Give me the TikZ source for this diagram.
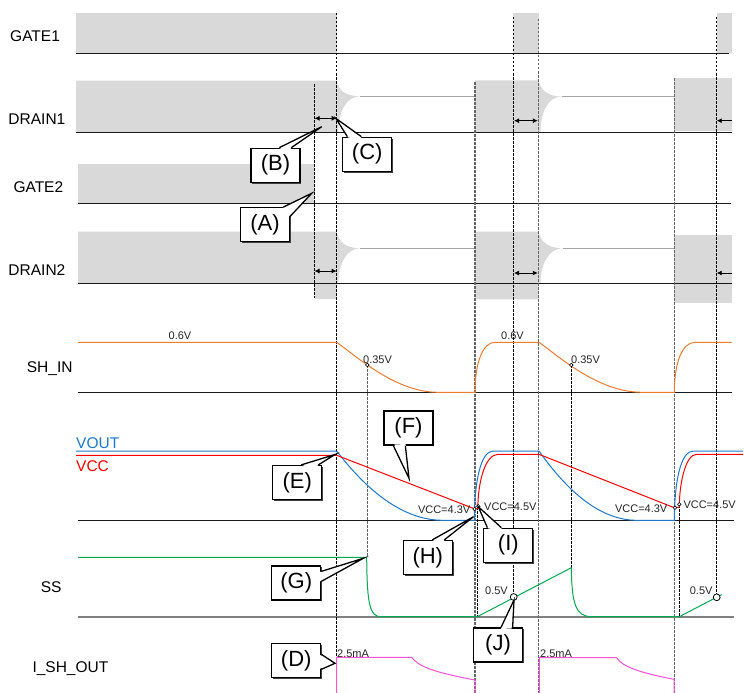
\documentclass[tikz,border=0pt]{standalone}
\usepackage{fontspec}
\setmainfont{Liberation Sans}
\usetikzlibrary{arrows.meta,calc,shadows}
\definecolor{shadegray}{RGB}{217,217,217}
\definecolor{levgray}{RGB}{165,165,165}
\definecolor{worange}{RGB}{237,125,49}
\definecolor{vblue}{RGB}{30,120,200}
\definecolor{vred}{RGB}{255,0,0}
\definecolor{sgreen}{RGB}{0,170,80}
\definecolor{ipink}{RGB}{255,80,215}
\newcommand{\ctail}[4]{%
  \fill[white] ($(#1)!1.6pt!(#4.center)$) -- (#2) -- ($(#3)!1.6pt!(#4.center)$) -- cycle;
  \draw[tailline] (#1) -- (#2) -- (#3);}
\begin{document}
\begin{tikzpicture}[x=1pt,y=-1pt,
  lbl/.style={font=\fontsize{15.5}{17}\selectfont, anchor=west, inner sep=0pt},
  small/.style={font=\fontsize{11}{12}\selectfont, inner sep=0pt, text=black!85},
  callout/.style={draw=black, line width=1.3pt, fill=white, minimum width=49pt, minimum height=34pt, inner sep=0pt, font=\fontsize{22}{24}\selectfont,
    drop shadow={shadow xshift=1.3pt, shadow yshift=-1.3pt, fill=black!75, opacity=1}},
  tailline/.style={draw=black, line width=1.3pt, line join=miter},
  blkdash/.style={draw=black, line width=0.7pt, dash pattern=on 2.5pt off 1.5pt},
  grydash/.style={draw=black!60, line width=1.1pt, dash pattern=on 2.5pt off 1.5pt},
  baseln/.style={draw=black!90, line width=0.9pt},
  levln/.style={draw=levgray, line width=1pt},
  dblarrow/.style={{Latex[length=5pt,width=5pt]}-{Latex[length=5pt,width=5pt]}, line width=0.9pt},
  lftarrow/.style={-{Latex[length=5pt,width=5pt]}, line width=0.9pt},
  mk/.style={draw=black, fill=white, line width=0.6pt},
  wave/.style={line width=1pt, line join=round},
]
\useasboundingbox (0,0) rectangle (744,693);
\fill[white] (0,0) rectangle (744,693);

% ---------- shaded regions ----------
\fill[shadegray] (76,13) rectangle (336.7,53.3);
\fill[shadegray] (513.3,13) rectangle (539,53.3);
\fill[shadegray] (716.7,13) rectangle (731.7,53.3);

\fill[shadegray] (76,80.7) -- (336.7,80.7) .. controls (338.5,90) and (345,96.3) .. (360,96.3)
  .. controls (346,96.3) and (338.5,112) .. (338.3,132.3) -- (76,132.3) -- cycle;
\fill[shadegray] (475,80.3) -- (538.7,80.3) .. controls (540.5,89.5) and (547,96.5) .. (562,96.5)
  .. controls (548,96.5) and (540.5,112) .. (540.5,132.3) -- (475,132.3) -- cycle;
\fill[shadegray] (674.3,78.3) rectangle (731.7,130.5);

\fill[shadegray] (78,164) rectangle (314,203.3);

\fill[shadegray] (78,231.7) -- (336.7,231.7) .. controls (338.5,241) and (345,248.3) .. (360,248.3)
  .. controls (346,248.3) and (338.5,265) .. (338.3,283.3) -- (336.7,283.3) -- (336.7,299)
  -- (314.5,299) -- (314.5,283.3) -- (78,283.3) -- cycle;
\fill[shadegray] (475,231.7) -- (538.7,231.7) .. controls (540.5,241) and (547,248.3) .. (563,248.3)
  .. controls (548,248.3) and (540.5,265) .. (540.5,283.3) -- (538.7,283.3) -- (538.7,299.3)
  -- (475,299.3) -- cycle;
\fill[shadegray] (674.3,235) rectangle (731.7,303.3);

% ---------- level lines ----------
\draw[levln] (360,96.3) -- (475,96.3);
\draw[levln] (562,96.5) -- (674.3,96.5);
\draw[levln] (360,248.3) -- (475,248.3);
\draw[levln] (563,248.3) -- (674.3,248.3);

% ---------- baselines ----------
\draw[baseln] (76,53.3) -- (729,53.3);
\draw[baseln] (76,132.3) -- (731.7,132.3);
\draw[baseln] (78,203.3) -- (731,203.3);
\draw[baseln] (78,283.3) -- (731.7,283.3);
\draw[baseln] (78,392.3) -- (731.7,392.3);
\draw[baseln] (78,520.3) -- (734,520.3);
\draw[draw=black!50, line width=1.8pt] (78,616.7) -- (734,616.7);

% ---------- dashed guide lines ----------
\draw[blkdash] (314.5,84) -- (314.5,298);
\draw[blkdash] (336.7,13) -- (336.7,657);
\draw[grydash] (367.3,365) -- (367.3,557);
\draw[grydash] (475,82) -- (475,693);
\draw[blkdash] (477.8,507) -- (477.8,616.7);
\draw[blkdash] (513.7,17) -- (513.7,597);
\draw[grydash] (538.9,19) -- (538.9,693);
\draw[blkdash] (571.3,365) -- (571.3,567.7);
\draw[grydash] (674.3,78) -- (674.3,693);
\draw[blkdash] (679.3,505) -- (679.3,616.7);
\draw[blkdash] (716.7,17) -- (716.7,597);

% ---------- arrows ----------
\draw[dblarrow] (314.5,118.3) -- (336.7,118.3);
\draw[dblarrow] (314.5,271) -- (336.7,271);
\draw[dblarrow] (514,120.7) -- (537.8,120.7);
\draw[dblarrow] (514,273) -- (537.8,273);
\draw[lftarrow] (731.7,120.7) -- (716.7,120.7);
\draw[lftarrow] (731.7,273) -- (716.7,273);

% ---------- SH_IN ----------
\draw[wave, worange] (78,342.3) -- (336.7,342.3) .. controls (355,355) and (395,392.3) .. (438,392.3)
  -- (475,392.3) .. controls (475,362) and (483,342.3) .. (495,342.3) -- (539,342.3)
  .. controls (557.3,355) and (597.3,392.3) .. (642,392.3) -- (674.3,392.3)
  .. controls (674.3,362) and (682.5,342.3) .. (695,342.3) -- (731.7,342.3);

% ---------- VOUT / VCC ----------
\draw[wave, vblue] (76,451) -- (336.7,451) .. controls (372.1,497.2) and (407.6,520.3) .. (443,520.3)
  -- (474.3,520.3) .. controls (474.5,480) and (481,451) .. (493.3,451) -- (539,451)
  .. controls (571.6,497.2) and (604.1,520.3) .. (636.7,520.3) -- (674.3,520.3)
  .. controls (674.5,480) and (681,451) .. (693.3,451) -- (743,451);
\draw[wave, vred] (76,455.3) -- (336.7,455.3) -- (475,509) -- (477.8,508.5)
  .. controls (478,482) and (485,454.3) .. (498.3,454.3) -- (539,454.3) -- (675,508) -- (679.3,507)
  .. controls (679.5,481) and (686,454.3) .. (696.7,454.3) -- (743,454.3);

% ---------- SS ----------
\draw[wave, sgreen] (78,557.3) -- (366.7,557.3) .. controls (367,605) and (370,616.7) .. (381,616.7)
  -- (477.3,616.7) -- (571.3,567.7) .. controls (571.8,605) and (576,616.7) .. (592,616.7)
  -- (679.3,616.7) -- (721.7,594.6);

% ---------- I_SH_OUT ----------
\draw[wave, ipink] (336.7,693) -- (336.7,657.3) -- (411.7,657.3)
  .. controls (418,666) and (432,672) .. (475,680) -- (475,693);
\draw[wave, ipink] (539.3,693) -- (539.3,657.7) -- (616.7,657.7)
  .. controls (622,666) and (636,672) .. (674,679.3) -- (674,693);

% ---------- markers ----------
\draw[mk] (367.3,365) circle[radius=1.8pt];
\draw[mk] (571.3,365) circle[radius=1.8pt];
\draw[mk] (474.5,509) circle[radius=1.8pt];
\draw[mk] (478.3,506.3) circle[radius=1.8pt];
\draw[mk] (675,507.7) circle[radius=1.8pt];
\draw[mk] (679.3,504.3) circle[radius=1.8pt];
\draw[mk, line width=0.8pt] (513.7,597) circle[radius=3.4pt];
\draw[mk, line width=0.8pt] (716.7,597.3) circle[radius=3.4pt];

% ---------- left labels ----------
\node[lbl] (lG1) at (10,36) {GATE1};
\node[lbl] (lD1) at (8.3,119.3) {DRAIN1};
\node[lbl] (lG2) at (13.3,187) {GATE2};
\node[lbl] (lD2) at (8.3,270) {DRAIN2};
\node[lbl] (lSH) at (26.7,368.3) {SH\_IN};
\node[lbl, text=vblue] (lVO) at (76,442.7) {VOUT};
\node[lbl, text=vred] (lVC) at (76,465.7) {VCC};
\node[lbl] (lSS) at (40.7,587.3) {SS};
\node[lbl] (lIS) at (32.3,668.3) {I\_SH\_OUT};

% ---------- small value labels ----------
\node[small] (v06a) at (180,335.7) {0.6V};
\node[small] (v06b) at (512.5,335.7) {0.6V};
\node[small, anchor=west] (v35a) at (363,359.3) {0.35V};
\node[small, anchor=west] (v35b) at (571,359.3) {0.35V};
\node[small, anchor=east] (v43a) at (470.5,509.5) {VCC=4.3V};
\node[small, anchor=west] (v45a) at (484,506.5) {VCC=4.5V};
\node[small, anchor=east] (v43b) at (667.5,509.2) {VCC=4.3V};
\node[small, anchor=west] (v45b) at (683.3,505) {VCC=4.5V};
\node[small, anchor=east] (v05a) at (508,590.7) {0.5V};
\node[small, anchor=east] (v05b) at (712.7,590.7) {0.5V};
\node[small, anchor=west] (i25a) at (337,653.3) {2.5mA};
\node[small, anchor=west] (i25b) at (540,653.3) {2.5mA};

% ---------- callouts ----------
\node[callout] (cA) at (265,224.7) {(A)};
\node[callout] (cB) at (275.5,165.3) {(B)};
\node[callout] (cC) at (367.2,154.3) {(C)};
\node[callout] (cD) at (296.2,660.3) {(D)};
\node[callout] (cE) at (297.2,482.5) {(E)};
\node[callout] (cF) at (408.5,428) {(F)};
\node[callout] (cG) at (296.2,583) {(G)};
\node[callout] (cH) at (427.8,557.5) {(H)};
\node[callout] (cI) at (508.3,545.3) {(I)};
\node[callout] (cJ) at (498,645) {(J)};

\coordinate (tA) at (311.7,193.3);
\coordinate (tB) at (321.7,126.7);
\coordinate (tC) at (336,118.5);
\coordinate (tD) at (335,663.3);
\coordinate (tE) at (335,454.5);
\coordinate (tF) at (409,478.3);
\coordinate (tG) at (363.3,558.3);
\coordinate (tH) at (473.5,516.7);
\coordinate (tI) at (478.3,506.7);
\coordinate (tJ) at (514,600);

\coordinate (a1) at ($(cA.north east)+(-6.7,0)$);
\coordinate (a2) at ($(cA.north east)+(0,9.3)$);
\coordinate (b1) at ($(cB.north west)+(29,0)$);
\coordinate (b2) at ($(cB.north west)+(41,0)$);
\coordinate (c1) at ($(cC.north west)+(5.3,0)$);
\coordinate (c2) at ($(cC.north west)+(19.3,0)$);
\coordinate (d1) at ($(cD.north east)+(0,11.7)$);
\coordinate (d2) at ($(cD.north east)+(0,26.7)$);
\coordinate (e1) at ($(cE.north west)+(29.3,0)$);
\coordinate (e2) at ($(cE.north west)+(46.3,0)$);
\coordinate (f1) at ($(cF.south west)+(10,0)$);
\coordinate (f2) at ($(cF.south west)+(22,0)$);
\coordinate (g1) at ($(cG.north east)+(0,6)$);
\coordinate (g2) at ($(cG.north east)+(0,16)$);
\coordinate (h1) at ($(cH.north west)+(29.7,0)$);
\coordinate (h2) at ($(cH.north west)+(41.7,0)$);
\coordinate (i1) at ($(cI.north west)+(4.2,0)$);
\coordinate (i2) at ($(cI.north west)+(18.2,0)$);
\coordinate (j1) at ($(cJ.north west)+(28.2,0)$);
\coordinate (j2) at ($(cJ.north west)+(39.8,0)$);

\ctail{a1}{tA}{a2}{cA}
\ctail{b1}{tB}{b2}{cB}
\ctail{c1}{tC}{c2}{cC}
\ctail{d1}{tD}{d2}{cD}
\ctail{e1}{tE}{e2}{cE}
\ctail{f1}{tF}{f2}{cF}
\ctail{g1}{tG}{g2}{cG}
\ctail{h1}{tH}{h2}{cH}
\ctail{i1}{tI}{i2}{cI}
\ctail{j1}{tJ}{j2}{cJ}
\end{tikzpicture}
\end{document}
